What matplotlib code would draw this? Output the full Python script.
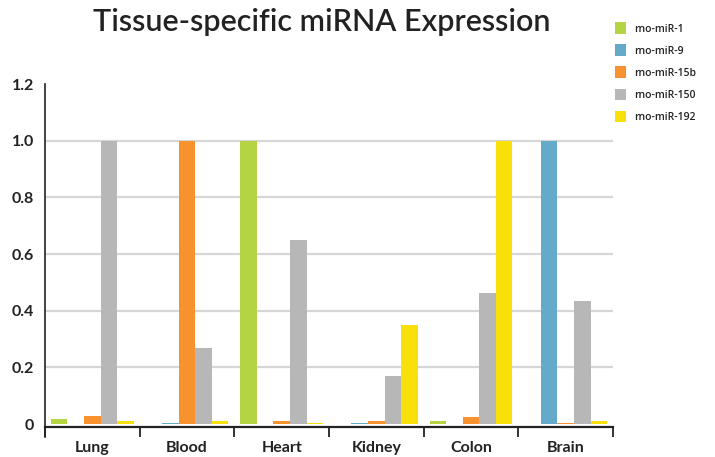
import matplotlib
matplotlib.use("Agg")
import matplotlib.pyplot as plt
import numpy as np
from matplotlib.patches import Patch
from matplotlib.lines import Line2D

categories = ["Lung", "Blood", "Heart", "Kidney", "Colon", "Brain"]
series_names = ["rno-miR-1", "rno-miR-9", "rno-miR-15b", "rno-miR-150", "rno-miR-192"]
mir1 = [0.018, 0.002, 1.0, 0.002, 0.012, 0.002]
mir9 = [0.002, 0.005, 0.002, 0.005, 0.002, 1.0]
mir15b = [0.029, 1.0, 0.012, 0.012, 0.027, 0.005]
mir150 = [1.0, 0.268, 0.65, 0.17, 0.463, 0.435]
mir192 = [0.012, 0.01, 0.005, 0.35, 1.0, 0.012]
yticks = [0, 0.2, 0.4, 0.6, 0.8, 1.0, 1.2]
ytick_labels = ["0", "0.2", "0.4", "0.6", "0.8", "1.0", "1.2"]

colors = ["#B5D444", "#65AACA", "#F7922E", "#B7B7B7", "#FAE00A"]
series = [mir1, mir9, mir15b, mir150, mir192]

plt.rcParams['font.family'] = ['Lato', 'DejaVu Sans']

fig = plt.figure(figsize=(7.15, 4.57), dpi=100)
ax = fig.add_axes([45/715, (457-427)/457, (613-45)/715, (427-84)/457])

x = np.arange(len(categories))
w = 0.175
for i, (vals, c) in enumerate(zip(series, colors)):
    ax.bar(x + (i - 2) * w, vals, width=w, color=c, zorder=3, linewidth=0)

ax.set_xlim(-0.5, len(categories) - 0.5)
ax.set_ylim(-0.01, 1.2)

for yv in yticks[1:-1]:
    ax.axhline(yv, color="#D6D6D6", linewidth=1.6, zorder=1)

ax.set_yticks(yticks)
ax.set_yticklabels(ytick_labels, fontsize=11.5, fontweight="bold", color="#222222")
ax.tick_params(axis="y", length=0, pad=8)

ax.set_xticks(np.arange(len(categories) + 1) - 0.5)
ax.set_xticklabels([])
ax.set_xticks(x, minor=True)
ax.set_xticklabels(categories, minor=True, fontsize=11.5, fontweight="bold", color="#222222")
ax.tick_params(axis="x", which="major", length=7.5, width=1.3, color="#222222", direction="out")
ax.tick_params(axis="x", which="minor", length=0, pad=10)

for s in ["top", "right"]:
    ax.spines[s].set_visible(False)
ax.spines["bottom"].set_linewidth(1.6)
ax.spines["bottom"].set_color("#222222")
ax.spines["left"].set_linewidth(1.2)
ax.spines["left"].set_color("#222222")
ax.add_line(Line2D([0, 0], [0, -0.03], transform=ax.transAxes, color="#222222",
                   linewidth=1.2, clip_on=False))

fig.text(322/715, 1 - 22/457, "Tissue-specific miRNA Expression", ha="center", va="center",
         fontsize=22, fontweight="semibold", color="#222222")

handles = [Patch(facecolor=c, edgecolor="none") for c in colors]
leg = fig.legend(handles, series_names, loc="upper left", bbox_to_anchor=(606/715, 1 - 13/457),
                 frameon=False, prop={"family": ["Open Sans", "DejaVu Sans"], "size": 7.5,
                                      "weight": "semibold"},
                 handlelength=1.0, handleheight=1.3,
                 labelspacing=0.95, handletextpad=0.8)
for t in leg.get_texts():
    t.set_color("#222222")

fig.savefig("out.png", dpi=100)
